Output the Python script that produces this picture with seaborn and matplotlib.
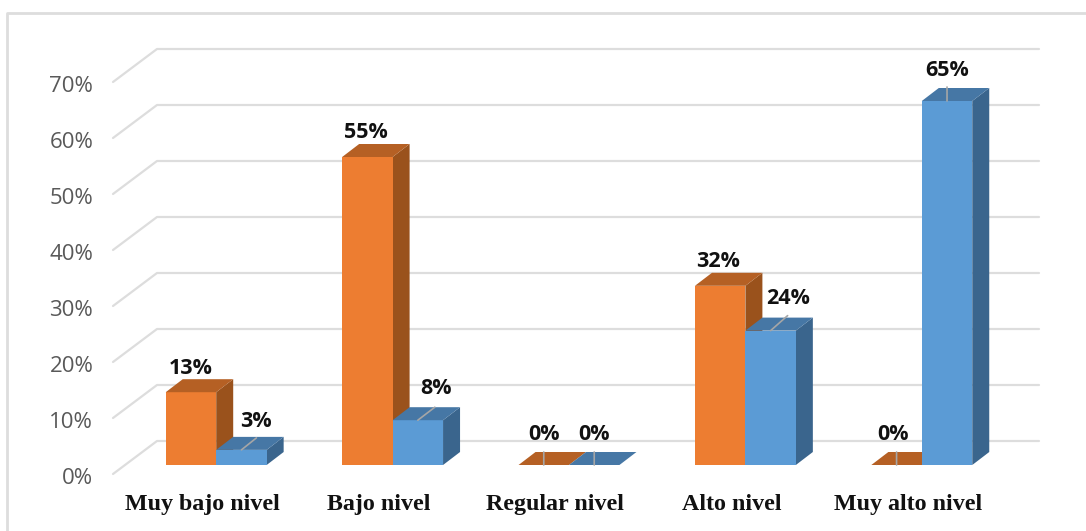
import matplotlib
matplotlib.use('Agg')
import matplotlib.pyplot as plt
import pandas as pd
import seaborn as sns
from matplotlib.lines import Line2D
from matplotlib.patches import Polygon
from matplotlib.transforms import Affine2D

categorias = ['Muy bajo nivel', 'Bajo nivel', 'Regular nivel', 'Alto nivel', 'Muy alto nivel']
serie_naranja = [13, 55, 0, 32, 0]
serie_azul = [2.7, 8, 0, 24, 65]
ticks_y = [0, 10, 20, 30, 40, 50, 60, 70]

# Colores de cada serie: frente, lado, tapa
colores = {
    'a': ('#ED7D31', '#9A521C', '#B56024'),
    'b': ('#5B9BD5', '#3A658D', '#4677A5'),
}
GRIS = '#DDDDDD'

ANCHO, ALTO = 1086, 531
PX_X = 882 / 5   # pixeles por categoria
PX_Y = 392 / 70  # pixeles por punto porcentual
FONDO_X, FONDO_Y = 17 / PX_X, 13 / PX_Y  # profundidad de las barras

# Desplazamiento en pixeles de cada etiqueta y su linea guia, por serie
offset_etiquetas = {
    'a': [(0, 24), (-1, 24), (0, 31), (-2, 24), (-4, 31)],
    'b': [(15, 28), (18, 32), (0, 31), (17, 32), (0, 31)],
}
offset_guias = {
    'a': [None, None, (0, 13), None, (0, 13)],
    'b': [(15, 12), (17, 13), (0, 13), (17, 15), (0, 14)],
}

datos = pd.DataFrame({
    'categoria': categorias * 2,
    'valor': serie_naranja + serie_azul,
    'serie': ['a'] * 5 + ['b'] * 5,
})

sns.set_theme(style='white')
fig = plt.figure(figsize=(ANCHO / 100, ALTO / 100), dpi=100)
ax = fig.add_axes([128 / ANCHO, 66 / ALTO, 882 / ANCHO, 392 / ALTO])
ax.patch.set_alpha(0)

sns.barplot(data=datos, x='categoria', y='valor', hue='serie', order=categorias,
            palette={k: v[0] for k, v in colores.items()}, width=0.572,
            saturation=1, legend=False, linewidth=0, ax=ax, zorder=3)
ax.set_xlim(-0.5, 4.5)
ax.set_ylim(0, 70)
ax.set_xlabel('')
ax.set_ylabel('')
sns.despine(ax=ax, left=True, bottom=True, top=True, right=True)

# Paredes: lineas del fondo y diagonales del lateral
fondo = ax.transData + Affine2D().translate(29, 24)
frente = ax.transData + Affine2D().translate(-15, -9)
for t in ticks_y:
    x0, y0 = frente.transform((-0.5, t))
    x1, y1 = fondo.transform((-0.5, t))
    x2, y2 = fondo.transform((4.5, t))
    fig.add_artist(Line2D([x0 / ANCHO, x1 / ANCHO, x2 / ANCHO],
                          [y0 / ALTO, y1 / ALTO, y2 / ALTO],
                          color=GRIS, lw=1.6, zorder=-1))

# Caras laterales, tapas, etiquetas y guias de cada barra
for orden, (contenedor, serie, valores) in enumerate(
        zip(ax.containers, ['a', 'b'], [serie_naranja, serie_azul])):
    _, lado, tapa = colores[serie]
    for i, barra in enumerate(contenedor):
        barra.set_zorder(3 + orden * 2)
        izq, der = barra.get_x(), barra.get_x() + barra.get_width()
        alto = barra.get_height()
        ax.add_patch(Polygon([(der, 0), (der + FONDO_X, FONDO_Y),
                              (der + FONDO_X, alto + FONDO_Y), (der, alto)],
                             closed=True, fc=lado, ec='none', clip_on=False,
                             zorder=2.5 + orden * 2))
        ax.add_patch(Polygon([(izq, alto), (izq + FONDO_X, alto + FONDO_Y),
                              (der + FONDO_X, alto + FONDO_Y), (der, alto)],
                             closed=True, fc=tapa, ec='none', clip_on=False,
                             zorder=3.5 + orden * 2))
        centro = (izq + der) / 2
        guia = offset_guias[serie][i]
        if guia is not None:
            ax.annotate('', xy=(centro, alto), xytext=guia, textcoords='offset pixels',
                        arrowprops=dict(arrowstyle='-', color='#A6A6A6', lw=1.2,
                                        shrinkA=0, shrinkB=0),
                        annotation_clip=False, zorder=8)
        ax.annotate(f'{valores[i]:.0f}%', xy=(centro, alto),
                    xytext=offset_etiquetas[serie][i], textcoords='offset pixels',
                    ha='center', va='center', fontsize=15.5, fontweight='bold',
                    family='Open Sans', color='#111111', annotation_clip=False, zorder=9)

ax.set_yticks(ticks_y)
ax.set_yticklabels([f'{t}%' for t in ticks_y], fontsize=16, family='Open Sans', color='#595959')
ax.tick_params(axis='y', length=0, pad=25)
for etiqueta in ax.get_yticklabels():
    etiqueta.set_transform(etiqueta.get_transform() + Affine2D().translate(0, -11))

ax.set_xticks(range(5))
ax.set_xticklabels(categorias, fontsize=17.3, family='Liberation Serif', fontweight='bold',
                   color='#111111')
ax.tick_params(axis='x', length=0, pad=21)
for etiqueta in ax.get_xticklabels():
    etiqueta.set_transform(etiqueta.get_transform() + Affine2D().translate(-14, 0))

# Borde del grafico
fig.add_artist(Line2D([7 / ANCHO, 7 / ANCHO, 1], [0, 1 - 13 / ALTO, 1 - 13 / ALTO],
                      color=GRIS, lw=2, zorder=-1))

fig.savefig('out.png', dpi=100)
